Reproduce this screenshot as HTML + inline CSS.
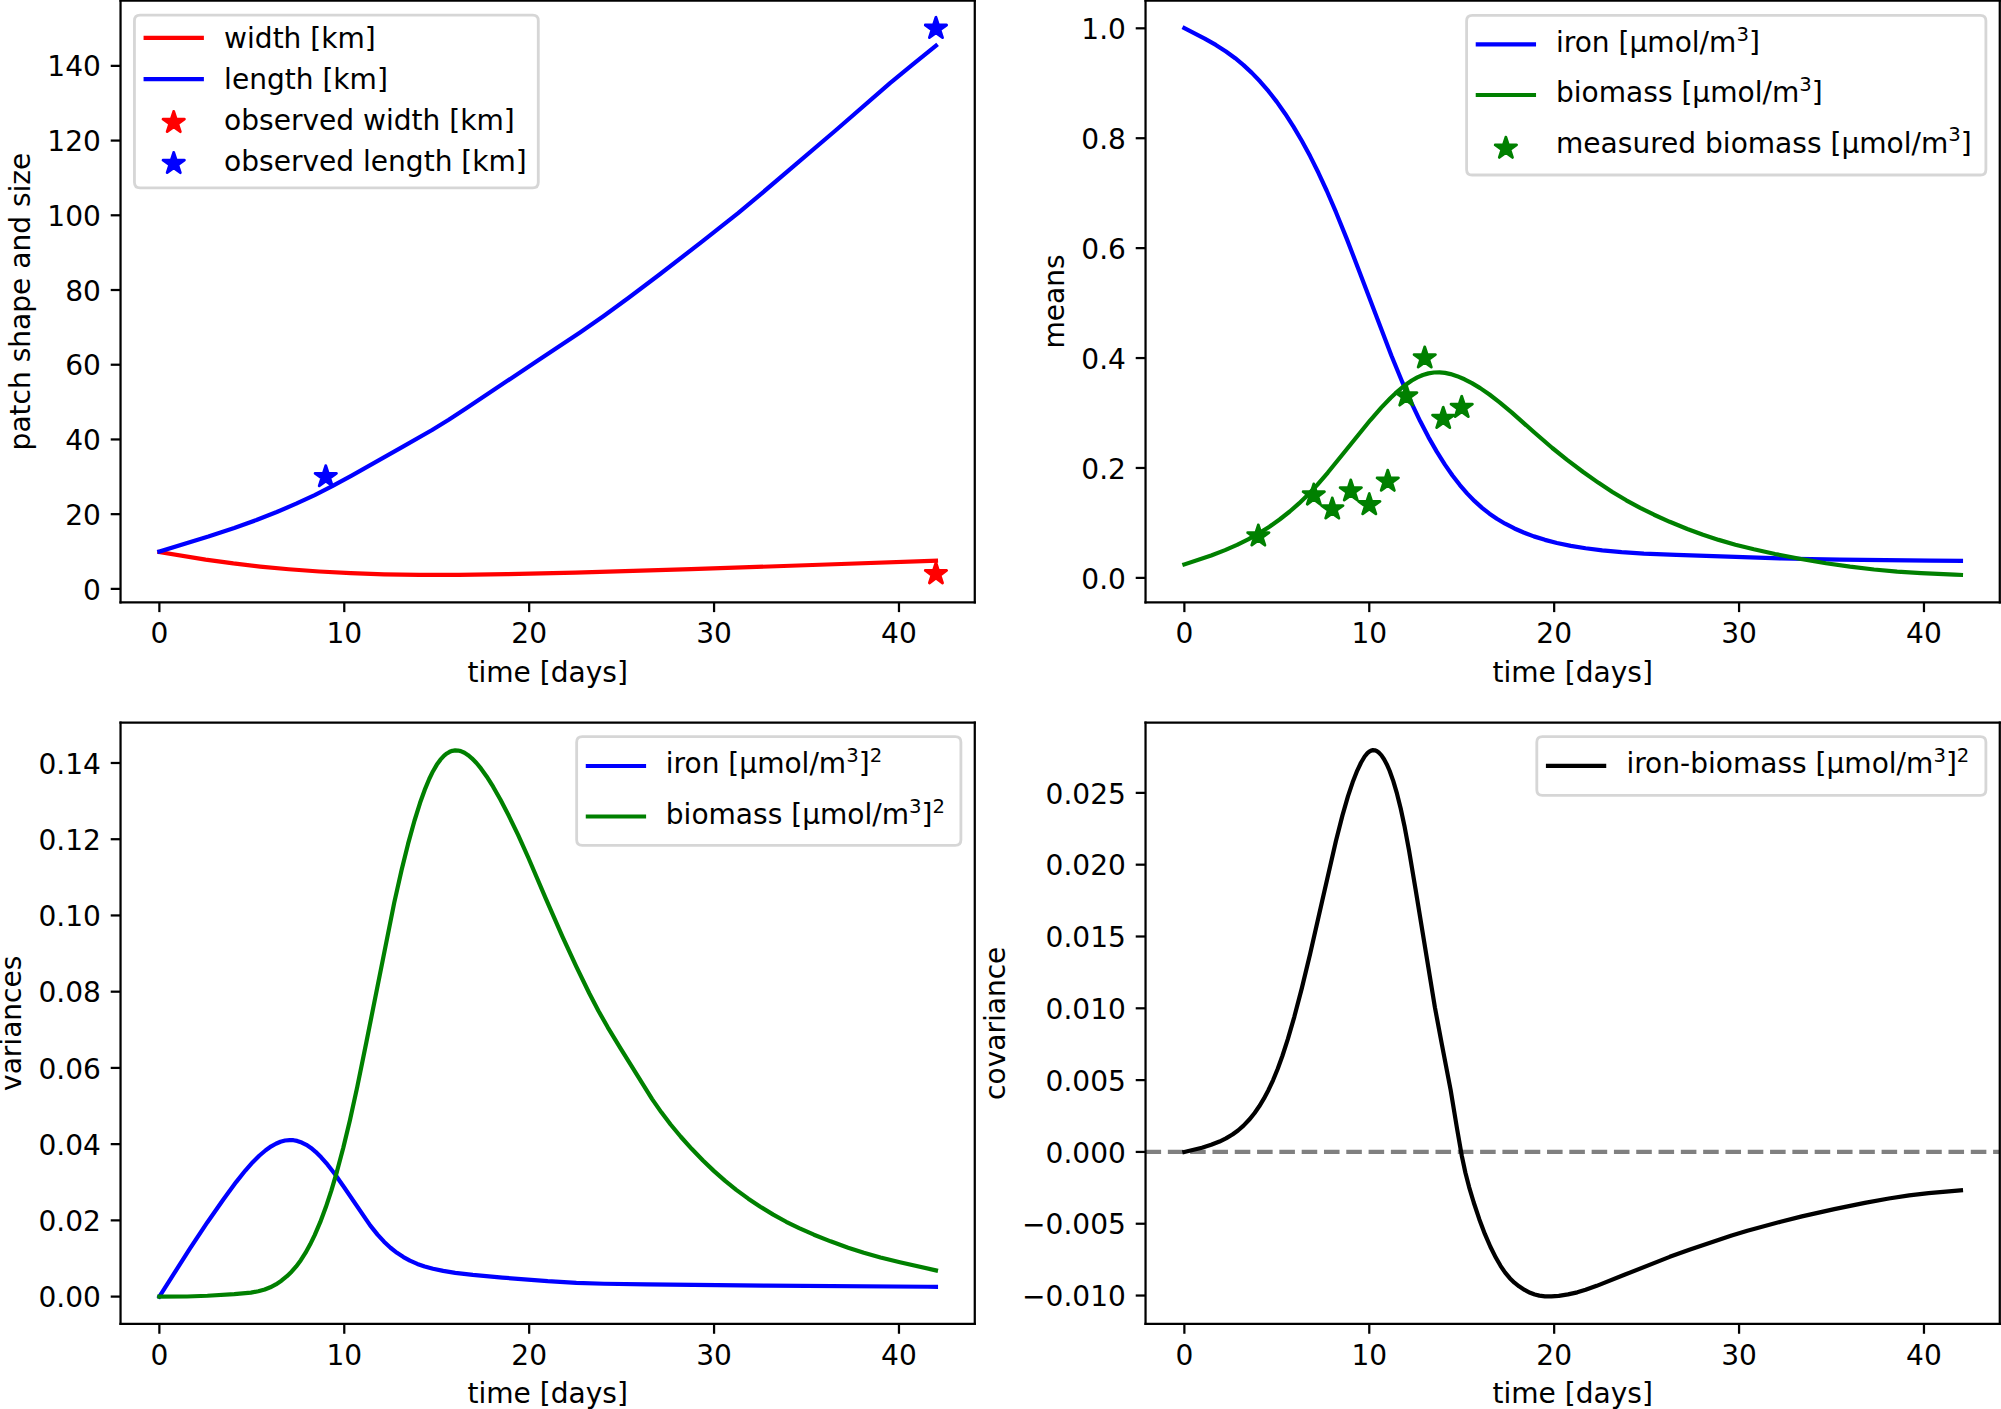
<!DOCTYPE html>
<html><head><meta charset="utf-8"><title>Patch model results</title><style>html,body{margin:0;padding:0;background:#fff;overflow:hidden}svg{display:block}</style></head><body>
<svg xmlns="http://www.w3.org/2000/svg" xmlns:xlink="http://www.w3.org/1999/xlink" width="2001" height="1409" viewBox="0 0 2001 1409" version="1.1"><g transform="scale(2.805556)">
 <defs>
  <style type="text/css">*{stroke-linejoin: round; stroke-linecap: butt}</style>
 </defs>
 <g id="figure_1">
  <g id="patch_1">
   <path d="M 0 502.217822 L 713.227723 502.217822 L 713.227723 0 L 0 0 z
" style="fill: #ffffff"/>
  </g>
  <g id="axes_1">
   <g id="patch_2">
    <path d="M 42.965109 214.681188 L 347.44598 214.681188 L 347.44598 0.267327 L 42.965109 0.267327 z
" style="fill: #ffffff"/>
   </g>
   <g id="matplotlib.axis_1">
    <g id="xtick_1">
     <g id="line2d_1">
      <defs>
       <path id="m7c25c535dc" d="M 0 0 L 0 3.5 " style="stroke: #000000; stroke-width: 0.8"/>
      </defs>
      <g>
       <use xlink:href="#m7c25c535dc" x="56.805149" y="214.681188" style="stroke: #000000; stroke-width: 0.8"/>
      </g>
     </g>
     <g id="text_1">
      <text style="font-size: 10px; font-family: 'DejaVu Sans', sans-serif; text-anchor: middle" x="56.805149" y="229.279626" transform="rotate(-0 56.805149 229.279626)">0</text>
     </g>
    </g>
    <g id="xtick_2">
     <g id="line2d_2">
      <g>
       <use xlink:href="#m7c25c535dc" x="122.710099" y="214.681188" style="stroke: #000000; stroke-width: 0.8"/>
      </g>
     </g>
     <g id="text_2">
      <text style="font-size: 10px; font-family: 'DejaVu Sans', sans-serif; text-anchor: middle" x="122.710099" y="229.279626" transform="rotate(-0 122.710099 229.279626)">10</text>
     </g>
    </g>
    <g id="xtick_3">
     <g id="line2d_3">
      <g>
       <use xlink:href="#m7c25c535dc" x="188.61505" y="214.681188" style="stroke: #000000; stroke-width: 0.8"/>
      </g>
     </g>
     <g id="text_3">
      <text style="font-size: 10px; font-family: 'DejaVu Sans', sans-serif; text-anchor: middle" x="188.61505" y="229.279626" transform="rotate(-0 188.61505 229.279626)">20</text>
     </g>
    </g>
    <g id="xtick_4">
     <g id="line2d_4">
      <g>
       <use xlink:href="#m7c25c535dc" x="254.52" y="214.681188" style="stroke: #000000; stroke-width: 0.8"/>
      </g>
     </g>
     <g id="text_4">
      <text style="font-size: 10px; font-family: 'DejaVu Sans', sans-serif; text-anchor: middle" x="254.52" y="229.279626" transform="rotate(-0 254.52 229.279626)">30</text>
     </g>
    </g>
    <g id="xtick_5">
     <g id="line2d_5">
      <g>
       <use xlink:href="#m7c25c535dc" x="320.42495" y="214.681188" style="stroke: #000000; stroke-width: 0.8"/>
      </g>
     </g>
     <g id="text_5">
      <text style="font-size: 10px; font-family: 'DejaVu Sans', sans-serif; text-anchor: middle" x="320.42495" y="229.279626" transform="rotate(-0 320.42495 229.279626)">40</text>
     </g>
    </g>
    <g id="text_6">
     <text style="font-size: 10px; font-family: 'DejaVu Sans', sans-serif; text-anchor: middle" x="195.205545" y="242.957751" transform="rotate(-0 195.205545 242.957751)">time [days]</text>
    </g>
   </g>
   <g id="matplotlib.axis_2">
    <g id="ytick_1">
     <g id="line2d_6">
      <defs>
       <path id="mb258c49b38" d="M 0 0 L -3.5 0 " style="stroke: #000000; stroke-width: 0.8"/>
      </defs>
      <g>
       <use xlink:href="#mb258c49b38" x="42.965109" y="209.897822" style="stroke: #000000; stroke-width: 0.8"/>
      </g>
     </g>
     <g id="text_7">
      <text style="font-size: 10px; font-family: 'DejaVu Sans', sans-serif; text-anchor: end" x="35.965109" y="213.697041" transform="rotate(-0 35.965109 213.697041)">0</text>
     </g>
    </g>
    <g id="ytick_2">
     <g id="line2d_7">
      <g>
       <use xlink:href="#mb258c49b38" x="42.965109" y="183.265663" style="stroke: #000000; stroke-width: 0.8"/>
      </g>
     </g>
     <g id="text_8">
      <text style="font-size: 10px; font-family: 'DejaVu Sans', sans-serif; text-anchor: end" x="35.965109" y="187.064882" transform="rotate(-0 35.965109 187.064882)">20</text>
     </g>
    </g>
    <g id="ytick_3">
     <g id="line2d_8">
      <g>
       <use xlink:href="#mb258c49b38" x="42.965109" y="156.633505" style="stroke: #000000; stroke-width: 0.8"/>
      </g>
     </g>
     <g id="text_9">
      <text style="font-size: 10px; font-family: 'DejaVu Sans', sans-serif; text-anchor: end" x="35.965109" y="160.432724" transform="rotate(-0 35.965109 160.432724)">40</text>
     </g>
    </g>
    <g id="ytick_4">
     <g id="line2d_9">
      <g>
       <use xlink:href="#mb258c49b38" x="42.965109" y="130.001347" style="stroke: #000000; stroke-width: 0.8"/>
      </g>
     </g>
     <g id="text_10">
      <text style="font-size: 10px; font-family: 'DejaVu Sans', sans-serif; text-anchor: end" x="35.965109" y="133.800565" transform="rotate(-0 35.965109 133.800565)">60</text>
     </g>
    </g>
    <g id="ytick_5">
     <g id="line2d_10">
      <g>
       <use xlink:href="#mb258c49b38" x="42.965109" y="103.369188" style="stroke: #000000; stroke-width: 0.8"/>
      </g>
     </g>
     <g id="text_11">
      <text style="font-size: 10px; font-family: 'DejaVu Sans', sans-serif; text-anchor: end" x="35.965109" y="107.168407" transform="rotate(-0 35.965109 107.168407)">80</text>
     </g>
    </g>
    <g id="ytick_6">
     <g id="line2d_11">
      <g>
       <use xlink:href="#mb258c49b38" x="42.965109" y="76.73703" style="stroke: #000000; stroke-width: 0.8"/>
      </g>
     </g>
     <g id="text_12">
      <text style="font-size: 10px; font-family: 'DejaVu Sans', sans-serif; text-anchor: end" x="35.965109" y="80.536248" transform="rotate(-0 35.965109 80.536248)">100</text>
     </g>
    </g>
    <g id="ytick_7">
     <g id="line2d_12">
      <g>
       <use xlink:href="#mb258c49b38" x="42.965109" y="50.104871" style="stroke: #000000; stroke-width: 0.8"/>
      </g>
     </g>
     <g id="text_13">
      <text style="font-size: 10px; font-family: 'DejaVu Sans', sans-serif; text-anchor: end" x="35.965109" y="53.90409" transform="rotate(-0 35.965109 53.90409)">120</text>
     </g>
    </g>
    <g id="ytick_8">
     <g id="line2d_13">
      <g>
       <use xlink:href="#mb258c49b38" x="42.965109" y="23.472713" style="stroke: #000000; stroke-width: 0.8"/>
      </g>
     </g>
     <g id="text_14">
      <text style="font-size: 10px; font-family: 'DejaVu Sans', sans-serif; text-anchor: end" x="35.965109" y="27.271932" transform="rotate(-0 35.965109 27.271932)">140</text>
     </g>
    </g>
    <g id="text_15">
     <text style="font-size: 10px; font-family: 'DejaVu Sans', sans-serif; text-anchor: middle" x="10.797921" y="107.474257" transform="rotate(-90 10.797921 107.474257)">patch shape and size</text>
    </g>
   </g>
   <g id="line2d_14">
    <path d="M 56.805149 196.767917 L 73.281386 199.458106 L 83.167129 200.836338 L 92.723347 201.947107 L 102.938614 202.906832 L 113.812931 203.698253 L 125.016772 204.291326 L 136.879663 204.695378 L 149.401604 204.899206 L 163.571168 204.901667 L 180.706455 204.670885 L 205.091287 204.097807 L 246.281881 202.879567 L 294.72202 201.213087 L 333.605941 199.887965 L 333.605941 199.887965 " clip-path="url(#p163450d6d6)" style="fill: none; stroke: #ff0000; stroke-width: 1.5; stroke-linecap: square"/>
   </g>
   <g id="line2d_15">
    <path d="M 56.805149 196.577535 L 74.26996 191.244728 L 83.496653 188.190958 L 91.405248 185.342536 L 98.654792 182.495684 L 105.574812 179.533047 L 112.165307 176.460026 L 118.426277 173.294545 L 125.346297 169.535025 L 143.470158 159.287975 L 154.01495 153.277735 L 159.946396 149.638531 L 166.207366 145.525256 L 191.580772 128.567975 L 206.738911 118.492959 L 215.306554 112.524945 L 224.203723 106.04868 L 235.07804 97.849396 L 250.565703 85.864499 L 263.087644 75.972547 L 270.666713 69.631323 L 298.017267 46.337639 L 317.129703 29.701806 L 325.367822 22.923431 L 333.605941 16.317025 L 333.605941 16.317025 " clip-path="url(#p163450d6d6)" style="fill: none; stroke: #0000ff; stroke-width: 1.5; stroke-linecap: square"/>
   </g>
   <g id="line2d_16">
    <defs>
     <path id="m61be71955b" d="M 0 -4 L -0.898056 -1.236068 L -3.804226 -1.236068 L -1.453085 0.472136 L -2.351141 3.236068 L -0 1.527864 L 2.351141 3.236068 L 1.453085 0.472136 L 3.804226 -1.236068 L 0.898056 -1.236068 z
" style="stroke: #ff0000; stroke-linejoin: round"/>
    </defs>
    <g clip-path="url(#p163450d6d6)">
     <use xlink:href="#m61be71955b" x="333.605941" y="204.57139" style="fill: #ff0000; stroke: #ff0000; stroke-linejoin: round"/>
    </g>
   </g>
   <g id="line2d_17">
    <defs>
     <path id="m645d102fbe" d="M 0 -4 L -0.898056 -1.236068 L -3.804226 -1.236068 L -1.453085 0.472136 L -2.351141 3.236068 L -0 1.527864 L 2.351141 3.236068 L 1.453085 0.472136 L 3.804226 -1.236068 L 0.898056 -1.236068 z
" style="stroke: #0000ff; stroke-linejoin: round"/>
    </defs>
    <g clip-path="url(#p163450d6d6)">
     <use xlink:href="#m645d102fbe" x="116.119604" y="169.949584" style="fill: #0000ff; stroke: #0000ff; stroke-linejoin: round"/>
     <use xlink:href="#m645d102fbe" x="333.605941" y="10.156634" style="fill: #0000ff; stroke: #0000ff; stroke-linejoin: round"/>
    </g>
   </g>
   <g id="patch_3">
    <path d="M 42.965109 214.681188 L 42.965109 0.267327 " style="fill: none; stroke: #000000; stroke-width: 0.8; stroke-linejoin: miter; stroke-linecap: square"/>
   </g>
   <g id="patch_4">
    <path d="M 347.44598 214.681188 L 347.44598 0.267327 " style="fill: none; stroke: #000000; stroke-width: 0.8; stroke-linejoin: miter; stroke-linecap: square"/>
   </g>
   <g id="patch_5">
    <path d="M 42.965109 214.681188 L 347.44598 214.681188 " style="fill: none; stroke: #000000; stroke-width: 0.8; stroke-linejoin: miter; stroke-linecap: square"/>
   </g>
   <g id="patch_6">
    <path d="M 42.965109 0.267327 L 347.44598 0.267327 " style="fill: none; stroke: #000000; stroke-width: 0.8; stroke-linejoin: miter; stroke-linecap: square"/>
   </g>
  </g>
  <g id="axes_2">
   <g id="patch_7">
    <path d="M 408.311644 214.681188 L 712.792515 214.681188 L 712.792515 0.267327 L 408.311644 0.267327 z
" style="fill: #ffffff"/>
   </g>
   <g id="matplotlib.axis_3">
    <g id="xtick_6">
     <g id="line2d_18">
      <g>
       <use xlink:href="#m7c25c535dc" x="422.151683" y="214.681188" style="stroke: #000000; stroke-width: 0.8"/>
      </g>
     </g>
     <g id="text_16">
      <text style="font-size: 10px; font-family: 'DejaVu Sans', sans-serif; text-anchor: middle" x="422.151683" y="229.279626" transform="rotate(-0 422.151683 229.279626)">0</text>
     </g>
    </g>
    <g id="xtick_7">
     <g id="line2d_19">
      <g>
       <use xlink:href="#m7c25c535dc" x="488.056634" y="214.681188" style="stroke: #000000; stroke-width: 0.8"/>
      </g>
     </g>
     <g id="text_17">
      <text style="font-size: 10px; font-family: 'DejaVu Sans', sans-serif; text-anchor: middle" x="488.056634" y="229.279626" transform="rotate(-0 488.056634 229.279626)">10</text>
     </g>
    </g>
    <g id="xtick_8">
     <g id="line2d_20">
      <g>
       <use xlink:href="#m7c25c535dc" x="553.961584" y="214.681188" style="stroke: #000000; stroke-width: 0.8"/>
      </g>
     </g>
     <g id="text_18">
      <text style="font-size: 10px; font-family: 'DejaVu Sans', sans-serif; text-anchor: middle" x="553.961584" y="229.279626" transform="rotate(-0 553.961584 229.279626)">20</text>
     </g>
    </g>
    <g id="xtick_9">
     <g id="line2d_21">
      <g>
       <use xlink:href="#m7c25c535dc" x="619.866535" y="214.681188" style="stroke: #000000; stroke-width: 0.8"/>
      </g>
     </g>
     <g id="text_19">
      <text style="font-size: 10px; font-family: 'DejaVu Sans', sans-serif; text-anchor: middle" x="619.866535" y="229.279626" transform="rotate(-0 619.866535 229.279626)">30</text>
     </g>
    </g>
    <g id="xtick_10">
     <g id="line2d_22">
      <g>
       <use xlink:href="#m7c25c535dc" x="685.771485" y="214.681188" style="stroke: #000000; stroke-width: 0.8"/>
      </g>
     </g>
     <g id="text_20">
      <text style="font-size: 10px; font-family: 'DejaVu Sans', sans-serif; text-anchor: middle" x="685.771485" y="229.279626" transform="rotate(-0 685.771485 229.279626)">40</text>
     </g>
    </g>
    <g id="text_21">
     <text style="font-size: 10px; font-family: 'DejaVu Sans', sans-serif; text-anchor: middle" x="560.552079" y="242.957751" transform="rotate(-0 560.552079 242.957751)">time [days]</text>
    </g>
   </g>
   <g id="matplotlib.axis_4">
    <g id="ytick_9">
     <g id="line2d_23">
      <g>
       <use xlink:href="#mb258c49b38" x="408.311644" y="205.97703" style="stroke: #000000; stroke-width: 0.8"/>
      </g>
     </g>
     <g id="text_22">
      <text style="font-size: 10px; font-family: 'DejaVu Sans', sans-serif; text-anchor: end" x="401.311644" y="209.776248" transform="rotate(-0 401.311644 209.776248)">0.0</text>
     </g>
    </g>
    <g id="ytick_10">
     <g id="line2d_24">
      <g>
       <use xlink:href="#mb258c49b38" x="408.311644" y="166.799762" style="stroke: #000000; stroke-width: 0.8"/>
      </g>
     </g>
     <g id="text_23">
      <text style="font-size: 10px; font-family: 'DejaVu Sans', sans-serif; text-anchor: end" x="401.311644" y="170.598981" transform="rotate(-0 401.311644 170.598981)">0.2</text>
     </g>
    </g>
    <g id="ytick_11">
     <g id="line2d_25">
      <g>
       <use xlink:href="#mb258c49b38" x="408.311644" y="127.622495" style="stroke: #000000; stroke-width: 0.8"/>
      </g>
     </g>
     <g id="text_24">
      <text style="font-size: 10px; font-family: 'DejaVu Sans', sans-serif; text-anchor: end" x="401.311644" y="131.421714" transform="rotate(-0 401.311644 131.421714)">0.4</text>
     </g>
    </g>
    <g id="ytick_12">
     <g id="line2d_26">
      <g>
       <use xlink:href="#mb258c49b38" x="408.311644" y="88.445228" style="stroke: #000000; stroke-width: 0.8"/>
      </g>
     </g>
     <g id="text_25">
      <text style="font-size: 10px; font-family: 'DejaVu Sans', sans-serif; text-anchor: end" x="401.311644" y="92.244446" transform="rotate(-0 401.311644 92.244446)">0.6</text>
     </g>
    </g>
    <g id="ytick_13">
     <g id="line2d_27">
      <g>
       <use xlink:href="#mb258c49b38" x="408.311644" y="49.26796" style="stroke: #000000; stroke-width: 0.8"/>
      </g>
     </g>
     <g id="text_26">
      <text style="font-size: 10px; font-family: 'DejaVu Sans', sans-serif; text-anchor: end" x="401.311644" y="53.067179" transform="rotate(-0 401.311644 53.067179)">0.8</text>
     </g>
    </g>
    <g id="ytick_14">
     <g id="line2d_28">
      <g>
       <use xlink:href="#mb258c49b38" x="408.311644" y="10.090693" style="stroke: #000000; stroke-width: 0.8"/>
      </g>
     </g>
     <g id="text_27">
      <text style="font-size: 10px; font-family: 'DejaVu Sans', sans-serif; text-anchor: end" x="401.311644" y="13.889912" transform="rotate(-0 401.311644 13.889912)">1.0</text>
     </g>
    </g>
    <g id="text_28">
     <text style="font-size: 10px; font-family: 'DejaVu Sans', sans-serif; text-anchor: middle" x="379.328831" y="107.474257" transform="rotate(-90 379.328831 107.474257)">means</text>
    </g>
   </g>
   <g id="line2d_29">
    <path d="M 422.151683 10.051389 L 429.401228 13.761799 L 433.355525 16.020809 L 436.980297 18.353259 L 440.275545 20.759321 L 443.241267 23.207884 L 446.20699 25.966416 L 449.172713 29.058651 L 452.138436 32.502533 L 455.104158 36.316001 L 458.069881 40.517368 L 461.035604 45.126282 L 464.001327 50.162556 L 466.96705 55.642826 L 469.932772 61.580466 L 472.898495 67.987204 L 476.193743 75.626293 L 480.14804 85.400173 L 485.090911 98.269994 L 495.965228 126.788903 L 499.919525 136.404352 L 503.214772 143.872455 L 506.180495 150.09078 L 509.146218 155.791946 L 512.111941 160.987382 L 515.077663 165.693861 L 517.713861 169.477332 L 520.350059 172.89125 L 522.986257 175.941871 L 525.622455 178.641485 L 528.258653 181.01112 L 530.894851 183.083116 L 533.53105 184.894732 L 536.496772 186.668256 L 539.79202 188.363857 L 543.087267 189.818161 L 546.71204 191.182137 L 550.666337 192.424339 L 554.950158 193.528518 L 559.89303 194.559438 L 565.165426 195.428991 L 571.096871 196.180806 L 578.016891 196.82746 L 585.925485 197.332856 L 597.458851 197.808264 L 635.024673 199.07434 L 655.784733 199.47144 L 688.078158 199.862852 L 698.952475 199.925242 L 698.952475 199.925242 " clip-path="url(#p0c8f0a9488)" style="fill: none; stroke: #0000ff; stroke-width: 1.5; stroke-linecap: square"/>
   </g>
   <g id="line2d_30">
    <path d="M 422.151683 201.182416 L 431.707901 197.974926 L 436.650772 196.089144 L 440.934594 194.22368 L 444.888891 192.256166 L 448.843188 190.023578 L 452.46796 187.726628 L 456.092733 185.167708 L 459.717505 182.318472 L 463.012752 179.437816 L 466.308 176.246866 L 469.603248 172.734773 L 473.22802 168.517314 L 479.159465 161.202787 L 488.386158 149.800936 L 492.340455 145.276365 L 495.635703 141.836076 L 498.271901 139.369951 L 500.908099 137.215103 L 503.214772 135.626949 L 505.191921 134.518161 L 507.169069 133.667739 L 509.146218 133.085613 L 511.123366 132.773966 L 513.100515 132.725937 L 515.077663 132.925664 L 517.054812 133.346961 L 519.361485 134.081499 L 521.997683 135.190199 L 524.633881 136.549357 L 527.599604 138.342385 L 530.894851 140.617611 L 534.519624 143.403001 L 538.803446 146.986948 L 546.71204 153.985707 L 553.302535 159.68169 L 558.574931 163.93708 L 564.176851 168.152872 L 569.778772 172.109988 L 574.721644 175.349566 L 579.664515 178.321663 L 584.607386 181.02084 L 589.550257 183.46819 L 595.152178 185.987542 L 601.413149 188.54569 L 607.015069 190.611204 L 612.61699 192.438231 L 618.548436 194.139958 L 625.138931 195.795397 L 632.718 197.462667 L 641.944693 199.25551 L 650.841861 200.756967 L 659.409505 201.980342 L 667.977149 202.987025 L 676.215267 203.742055 L 684.782911 204.300441 L 696.645802 204.828278 L 698.952475 204.917011 L 698.952475 204.917011 " clip-path="url(#p0c8f0a9488)" style="fill: none; stroke: #008000; stroke-width: 1.5; stroke-linecap: square"/>
   </g>
   <g id="line2d_31">
    <defs>
     <path id="m027cd5682d" d="M 0 -4 L -0.898056 -1.236068 L -3.804226 -1.236068 L -1.453085 0.472136 L -2.351141 3.236068 L -0 1.527864 L 2.351141 3.236068 L 1.453085 0.472136 L 3.804226 -1.236068 L 0.898056 -1.236068 z
" style="stroke: #008000; stroke-linejoin: round"/>
    </defs>
    <g clip-path="url(#p0c8f0a9488)">
     <use xlink:href="#m027cd5682d" x="448.513663" y="191.089668" style="fill: #008000; stroke: #008000; stroke-linejoin: round"/>
     <use xlink:href="#m027cd5682d" x="468.285149" y="176.496136" style="fill: #008000; stroke: #008000; stroke-linejoin: round"/>
     <use xlink:href="#m027cd5682d" x="474.875644" y="181.45206" style="fill: #008000; stroke: #008000; stroke-linejoin: round"/>
     <use xlink:href="#m027cd5682d" x="481.466139" y="175.026989" style="fill: #008000; stroke: #008000; stroke-linejoin: round"/>
     <use xlink:href="#m027cd5682d" x="488.056634" y="179.924147" style="fill: #008000; stroke: #008000; stroke-linejoin: round"/>
     <use xlink:href="#m027cd5682d" x="494.647129" y="171.579389" style="fill: #008000; stroke: #008000; stroke-linejoin: round"/>
     <use xlink:href="#m027cd5682d" x="501.237624" y="141.197418" style="fill: #008000; stroke: #008000; stroke-linejoin: round"/>
     <use xlink:href="#m027cd5682d" x="507.828119" y="127.622495" style="fill: #008000; stroke: #008000; stroke-linejoin: round"/>
     <use xlink:href="#m027cd5682d" x="514.418614" y="149.169992" style="fill: #008000; stroke: #008000; stroke-linejoin: round"/>
     <use xlink:href="#m027cd5682d" x="521.009109" y="145.252265" style="fill: #008000; stroke: #008000; stroke-linejoin: round"/>
    </g>
   </g>
   <g id="patch_8">
    <path d="M 408.311644 214.681188 L 408.311644 0.267327 " style="fill: none; stroke: #000000; stroke-width: 0.8; stroke-linejoin: miter; stroke-linecap: square"/>
   </g>
   <g id="patch_9">
    <path d="M 712.792515 214.681188 L 712.792515 0.267327 " style="fill: none; stroke: #000000; stroke-width: 0.8; stroke-linejoin: miter; stroke-linecap: square"/>
   </g>
   <g id="patch_10">
    <path d="M 408.311644 214.681188 L 712.792515 214.681188 " style="fill: none; stroke: #000000; stroke-width: 0.8; stroke-linejoin: miter; stroke-linecap: square"/>
   </g>
   <g id="patch_11">
    <path d="M 408.311644 0.267327 L 712.792515 0.267327 " style="fill: none; stroke: #000000; stroke-width: 0.8; stroke-linejoin: miter; stroke-linecap: square"/>
   </g>
  </g>
  <g id="axes_3">
   <g id="patch_12">
    <path d="M 42.965109 471.90297 L 347.44598 471.90297 L 347.44598 257.560396 L 42.965109 257.560396 z
" style="fill: #ffffff"/>
   </g>
   <g id="matplotlib.axis_5">
    <g id="xtick_11">
     <g id="line2d_32">
      <g>
       <use xlink:href="#m7c25c535dc" x="56.805149" y="471.90297" style="stroke: #000000; stroke-width: 0.8"/>
      </g>
     </g>
     <g id="text_29">
      <text style="font-size: 10px; font-family: 'DejaVu Sans', sans-serif; text-anchor: middle" x="56.805149" y="486.501408" transform="rotate(-0 56.805149 486.501408)">0</text>
     </g>
    </g>
    <g id="xtick_12">
     <g id="line2d_33">
      <g>
       <use xlink:href="#m7c25c535dc" x="122.710099" y="471.90297" style="stroke: #000000; stroke-width: 0.8"/>
      </g>
     </g>
     <g id="text_30">
      <text style="font-size: 10px; font-family: 'DejaVu Sans', sans-serif; text-anchor: middle" x="122.710099" y="486.501408" transform="rotate(-0 122.710099 486.501408)">10</text>
     </g>
    </g>
    <g id="xtick_13">
     <g id="line2d_34">
      <g>
       <use xlink:href="#m7c25c535dc" x="188.61505" y="471.90297" style="stroke: #000000; stroke-width: 0.8"/>
      </g>
     </g>
     <g id="text_31">
      <text style="font-size: 10px; font-family: 'DejaVu Sans', sans-serif; text-anchor: middle" x="188.61505" y="486.501408" transform="rotate(-0 188.61505 486.501408)">20</text>
     </g>
    </g>
    <g id="xtick_14">
     <g id="line2d_35">
      <g>
       <use xlink:href="#m7c25c535dc" x="254.52" y="471.90297" style="stroke: #000000; stroke-width: 0.8"/>
      </g>
     </g>
     <g id="text_32">
      <text style="font-size: 10px; font-family: 'DejaVu Sans', sans-serif; text-anchor: middle" x="254.52" y="486.501408" transform="rotate(-0 254.52 486.501408)">30</text>
     </g>
    </g>
    <g id="xtick_15">
     <g id="line2d_36">
      <g>
       <use xlink:href="#m7c25c535dc" x="320.42495" y="471.90297" style="stroke: #000000; stroke-width: 0.8"/>
      </g>
     </g>
     <g id="text_33">
      <text style="font-size: 10px; font-family: 'DejaVu Sans', sans-serif; text-anchor: middle" x="320.42495" y="486.501408" transform="rotate(-0 320.42495 486.501408)">40</text>
     </g>
    </g>
    <g id="text_34">
     <text style="font-size: 10px; font-family: 'DejaVu Sans', sans-serif; text-anchor: middle" x="195.205545" y="500.179533" transform="rotate(-0 195.205545 500.179533)">time [days]</text>
    </g>
   </g>
   <g id="matplotlib.axis_6">
    <g id="ytick_15">
     <g id="line2d_37">
      <g>
       <use xlink:href="#mb258c49b38" x="42.965109" y="462.154455" style="stroke: #000000; stroke-width: 0.8"/>
      </g>
     </g>
     <g id="text_35">
      <text style="font-size: 10px; font-family: 'DejaVu Sans', sans-serif; text-anchor: end" x="35.965109" y="465.953674" transform="rotate(-0 35.965109 465.953674)">0.00</text>
     </g>
    </g>
    <g id="ytick_16">
     <g id="line2d_38">
      <g>
       <use xlink:href="#mb258c49b38" x="42.965109" y="434.983366" style="stroke: #000000; stroke-width: 0.8"/>
      </g>
     </g>
     <g id="text_36">
      <text style="font-size: 10px; font-family: 'DejaVu Sans', sans-serif; text-anchor: end" x="35.965109" y="438.782585" transform="rotate(-0 35.965109 438.782585)">0.02</text>
     </g>
    </g>
    <g id="ytick_17">
     <g id="line2d_39">
      <g>
       <use xlink:href="#mb258c49b38" x="42.965109" y="407.812277" style="stroke: #000000; stroke-width: 0.8"/>
      </g>
     </g>
     <g id="text_37">
      <text style="font-size: 10px; font-family: 'DejaVu Sans', sans-serif; text-anchor: end" x="35.965109" y="411.611496" transform="rotate(-0 35.965109 411.611496)">0.04</text>
     </g>
    </g>
    <g id="ytick_18">
     <g id="line2d_40">
      <g>
       <use xlink:href="#mb258c49b38" x="42.965109" y="380.641188" style="stroke: #000000; stroke-width: 0.8"/>
      </g>
     </g>
     <g id="text_38">
      <text style="font-size: 10px; font-family: 'DejaVu Sans', sans-serif; text-anchor: end" x="35.965109" y="384.440407" transform="rotate(-0 35.965109 384.440407)">0.06</text>
     </g>
    </g>
    <g id="ytick_19">
     <g id="line2d_41">
      <g>
       <use xlink:href="#mb258c49b38" x="42.965109" y="353.470099" style="stroke: #000000; stroke-width: 0.8"/>
      </g>
     </g>
     <g id="text_39">
      <text style="font-size: 10px; font-family: 'DejaVu Sans', sans-serif; text-anchor: end" x="35.965109" y="357.269318" transform="rotate(-0 35.965109 357.269318)">0.08</text>
     </g>
    </g>
    <g id="ytick_20">
     <g id="line2d_42">
      <g>
       <use xlink:href="#mb258c49b38" x="42.965109" y="326.29901" style="stroke: #000000; stroke-width: 0.8"/>
      </g>
     </g>
     <g id="text_40">
      <text style="font-size: 10px; font-family: 'DejaVu Sans', sans-serif; text-anchor: end" x="35.965109" y="330.098229" transform="rotate(-0 35.965109 330.098229)">0.10</text>
     </g>
    </g>
    <g id="ytick_21">
     <g id="line2d_43">
      <g>
       <use xlink:href="#mb258c49b38" x="42.965109" y="299.127921" style="stroke: #000000; stroke-width: 0.8"/>
      </g>
     </g>
     <g id="text_41">
      <text style="font-size: 10px; font-family: 'DejaVu Sans', sans-serif; text-anchor: end" x="35.965109" y="302.92714" transform="rotate(-0 35.965109 302.92714)">0.12</text>
     </g>
    </g>
    <g id="ytick_22">
     <g id="line2d_44">
      <g>
       <use xlink:href="#mb258c49b38" x="42.965109" y="271.956832" style="stroke: #000000; stroke-width: 0.8"/>
      </g>
     </g>
     <g id="text_42">
      <text style="font-size: 10px; font-family: 'DejaVu Sans', sans-serif; text-anchor: end" x="35.965109" y="275.75605" transform="rotate(-0 35.965109 275.75605)">0.14</text>
     </g>
    </g>
    <g id="text_43">
     <text style="font-size: 10px; font-family: 'DejaVu Sans', sans-serif; text-anchor: middle" x="7.619796" y="364.731683" transform="rotate(-90 7.619796 364.731683)">variances</text>
    </g>
   </g>
   <g id="line2d_45">
    <path d="M 56.805149 462.147204 L 67.679465 445.056603 L 73.940436 435.639079 L 79.542356 427.612258 L 84.155703 421.346513 L 87.45095 417.226879 L 90.087149 414.256086 L 92.393822 411.955711 L 94.700495 409.984453 L 96.677644 408.591763 L 98.325267 407.663679 L 99.972891 406.968072 L 101.620515 406.524444 L 103.268139 406.350408 L 104.586238 406.415715 L 105.904337 406.664137 L 107.55196 407.229301 L 109.199584 408.071439 L 110.847208 409.180832 L 112.494832 410.54484 L 114.47198 412.491781 L 116.778653 415.139292 L 119.414851 418.557106 L 122.710099 423.253888 L 131.936792 436.746873 L 134.57299 440.064707 L 136.879663 442.585488 L 139.186337 444.735216 L 141.49301 446.549299 L 143.799683 448.067046 L 146.106356 449.329369 L 148.742554 450.501511 L 151.378752 451.425648 L 154.344475 452.236986 L 157.969248 453.001445 L 162.253069 453.677497 L 168.51404 454.417477 L 179.058832 455.390279 L 195.205545 456.669375 L 205.420812 457.240514 L 215.306554 457.569264 L 230.464693 457.812163 L 273.302911 458.259409 L 330.640218 458.648913 L 333.605941 458.661432 L 333.605941 458.661432 " clip-path="url(#pbb3766e73e)" style="fill: none; stroke: #0000ff; stroke-width: 1.5; stroke-linecap: square"/>
   </g>
   <g id="line2d_46">
    <path d="M 56.805149 462.156631 L 66.690891 462.116955 L 73.940436 461.848695 L 83.496653 461.257804 L 89.428099 460.725884 L 92.064297 460.262889 L 94.37097 459.618907 L 96.348119 458.836894 L 98.325267 457.804502 L 100.302416 456.498389 L 102.279564 454.893844 L 103.927188 453.287836 L 105.574812 451.395095 L 107.222436 449.176645 L 108.870059 446.594062 L 110.517683 443.619033 L 112.165307 440.239389 L 114.142455 435.621672 L 116.119604 430.345882 L 118.096752 424.365687 L 120.073901 417.671437 L 122.380574 408.996252 L 124.687248 399.433953 L 127.323446 387.48141 L 130.618693 371.31364 L 140.504436 321.830207 L 143.140634 310.121119 L 145.447307 300.802124 L 147.75398 292.456446 L 149.731129 286.156282 L 151.378752 281.557186 L 153.026376 277.585993 L 154.344475 274.882574 L 155.662574 272.61366 L 156.980673 270.773949 L 158.298772 269.353688 L 159.287347 268.55758 L 160.275921 267.984157 L 161.264495 267.624965 L 162.253069 267.47155 L 163.241644 267.515245 L 164.230218 267.745013 L 165.548317 268.319186 L 166.866416 269.172198 L 168.184515 270.275762 L 169.832139 271.970274 L 171.479762 273.97595 L 173.456911 276.74458 L 175.763584 280.416594 L 178.399782 285.088692 L 181.365505 290.784058 L 184.660752 297.597735 L 188.285525 305.645963 L 194.546495 320.277348 L 200.477941 333.821951 L 205.420812 344.548463 L 210.034158 354.039394 L 213.329406 360.352735 L 216.624653 366.162831 L 221.238 373.783888 L 232.441842 391.766868 L 235.737089 396.475596 L 239.032337 400.802549 L 242.657109 405.168993 L 246.611406 409.565776 L 250.565703 413.643006 L 254.52 417.424956 L 258.474297 420.912702 L 262.428594 424.098191 L 266.712416 427.242218 L 270.996238 430.118482 L 275.609584 432.939435 L 280.222931 435.483658 L 284.836277 437.758523 L 290.108673 440.086048 L 296.040119 442.462148 L 302.301089 444.729649 L 307.90301 446.53269 L 313.834455 448.210814 L 320.754475 449.92511 L 333.605941 452.81548 L 333.605941 452.81548 " clip-path="url(#pbb3766e73e)" style="fill: none; stroke: #008000; stroke-width: 1.5; stroke-linecap: square"/>
   </g>
   <g id="patch_13">
    <path d="M 42.965109 471.90297 L 42.965109 257.560396 " style="fill: none; stroke: #000000; stroke-width: 0.8; stroke-linejoin: miter; stroke-linecap: square"/>
   </g>
   <g id="patch_14">
    <path d="M 347.44598 471.90297 L 347.44598 257.560396 " style="fill: none; stroke: #000000; stroke-width: 0.8; stroke-linejoin: miter; stroke-linecap: square"/>
   </g>
   <g id="patch_15">
    <path d="M 42.965109 471.90297 L 347.44598 471.90297 " style="fill: none; stroke: #000000; stroke-width: 0.8; stroke-linejoin: miter; stroke-linecap: square"/>
   </g>
   <g id="patch_16">
    <path d="M 42.965109 257.560396 L 347.44598 257.560396 " style="fill: none; stroke: #000000; stroke-width: 0.8; stroke-linejoin: miter; stroke-linecap: square"/>
   </g>
  </g>
  <g id="axes_4">
   <g id="patch_17">
    <path d="M 408.311644 471.90297 L 712.792515 471.90297 L 712.792515 257.560396 L 408.311644 257.560396 z
" style="fill: #ffffff"/>
   </g>
   <g id="matplotlib.axis_7">
    <g id="xtick_16">
     <g id="line2d_47">
      <g>
       <use xlink:href="#m7c25c535dc" x="422.151683" y="471.90297" style="stroke: #000000; stroke-width: 0.8"/>
      </g>
     </g>
     <g id="text_44">
      <text style="font-size: 10px; font-family: 'DejaVu Sans', sans-serif; text-anchor: middle" x="422.151683" y="486.501408" transform="rotate(-0 422.151683 486.501408)">0</text>
     </g>
    </g>
    <g id="xtick_17">
     <g id="line2d_48">
      <g>
       <use xlink:href="#m7c25c535dc" x="488.056634" y="471.90297" style="stroke: #000000; stroke-width: 0.8"/>
      </g>
     </g>
     <g id="text_45">
      <text style="font-size: 10px; font-family: 'DejaVu Sans', sans-serif; text-anchor: middle" x="488.056634" y="486.501408" transform="rotate(-0 488.056634 486.501408)">10</text>
     </g>
    </g>
    <g id="xtick_18">
     <g id="line2d_49">
      <g>
       <use xlink:href="#m7c25c535dc" x="553.961584" y="471.90297" style="stroke: #000000; stroke-width: 0.8"/>
      </g>
     </g>
     <g id="text_46">
      <text style="font-size: 10px; font-family: 'DejaVu Sans', sans-serif; text-anchor: middle" x="553.961584" y="486.501408" transform="rotate(-0 553.961584 486.501408)">20</text>
     </g>
    </g>
    <g id="xtick_19">
     <g id="line2d_50">
      <g>
       <use xlink:href="#m7c25c535dc" x="619.866535" y="471.90297" style="stroke: #000000; stroke-width: 0.8"/>
      </g>
     </g>
     <g id="text_47">
      <text style="font-size: 10px; font-family: 'DejaVu Sans', sans-serif; text-anchor: middle" x="619.866535" y="486.501408" transform="rotate(-0 619.866535 486.501408)">30</text>
     </g>
    </g>
    <g id="xtick_20">
     <g id="line2d_51">
      <g>
       <use xlink:href="#m7c25c535dc" x="685.771485" y="471.90297" style="stroke: #000000; stroke-width: 0.8"/>
      </g>
     </g>
     <g id="text_48">
      <text style="font-size: 10px; font-family: 'DejaVu Sans', sans-serif; text-anchor: middle" x="685.771485" y="486.501408" transform="rotate(-0 685.771485 486.501408)">40</text>
     </g>
    </g>
    <g id="text_49">
     <text style="font-size: 10px; font-family: 'DejaVu Sans', sans-serif; text-anchor: middle" x="560.552079" y="500.179533" transform="rotate(-0 560.552079 500.179533)">time [days]</text>
    </g>
   </g>
   <g id="matplotlib.axis_8">
    <g id="ytick_23">
     <g id="line2d_52">
      <g>
       <use xlink:href="#mb258c49b38" x="408.311644" y="461.776634" style="stroke: #000000; stroke-width: 0.8"/>
      </g>
     </g>
     <g id="text_50">
      <text style="font-size: 10px; font-family: 'DejaVu Sans', sans-serif; text-anchor: end" x="401.311644" y="465.575852" transform="rotate(-0 401.311644 465.575852)">−0.010</text>
     </g>
    </g>
    <g id="ytick_24">
     <g id="line2d_53">
      <g>
       <use xlink:href="#mb258c49b38" x="408.311644" y="436.18099" style="stroke: #000000; stroke-width: 0.8"/>
      </g>
     </g>
     <g id="text_51">
      <text style="font-size: 10px; font-family: 'DejaVu Sans', sans-serif; text-anchor: end" x="401.311644" y="439.980209" transform="rotate(-0 401.311644 439.980209)">−0.005</text>
     </g>
    </g>
    <g id="ytick_25">
     <g id="line2d_54">
      <g>
       <use xlink:href="#mb258c49b38" x="408.311644" y="410.585347" style="stroke: #000000; stroke-width: 0.8"/>
      </g>
     </g>
     <g id="text_52">
      <text style="font-size: 10px; font-family: 'DejaVu Sans', sans-serif; text-anchor: end" x="401.311644" y="414.384565" transform="rotate(-0 401.311644 414.384565)">0.000</text>
     </g>
    </g>
    <g id="ytick_26">
     <g id="line2d_55">
      <g>
       <use xlink:href="#mb258c49b38" x="408.311644" y="384.989703" style="stroke: #000000; stroke-width: 0.8"/>
      </g>
     </g>
     <g id="text_53">
      <text style="font-size: 10px; font-family: 'DejaVu Sans', sans-serif; text-anchor: end" x="401.311644" y="388.788922" transform="rotate(-0 401.311644 388.788922)">0.005</text>
     </g>
    </g>
    <g id="ytick_27">
     <g id="line2d_56">
      <g>
       <use xlink:href="#mb258c49b38" x="408.311644" y="359.394059" style="stroke: #000000; stroke-width: 0.8"/>
      </g>
     </g>
     <g id="text_54">
      <text style="font-size: 10px; font-family: 'DejaVu Sans', sans-serif; text-anchor: end" x="401.311644" y="363.193278" transform="rotate(-0 401.311644 363.193278)">0.010</text>
     </g>
    </g>
    <g id="ytick_28">
     <g id="line2d_57">
      <g>
       <use xlink:href="#mb258c49b38" x="408.311644" y="333.798416" style="stroke: #000000; stroke-width: 0.8"/>
      </g>
     </g>
     <g id="text_55">
      <text style="font-size: 10px; font-family: 'DejaVu Sans', sans-serif; text-anchor: end" x="401.311644" y="337.597635" transform="rotate(-0 401.311644 337.597635)">0.015</text>
     </g>
    </g>
    <g id="ytick_29">
     <g id="line2d_58">
      <g>
       <use xlink:href="#mb258c49b38" x="408.311644" y="308.202772" style="stroke: #000000; stroke-width: 0.8"/>
      </g>
     </g>
     <g id="text_56">
      <text style="font-size: 10px; font-family: 'DejaVu Sans', sans-serif; text-anchor: end" x="401.311644" y="312.001991" transform="rotate(-0 401.311644 312.001991)">0.020</text>
     </g>
    </g>
    <g id="ytick_30">
     <g id="line2d_59">
      <g>
       <use xlink:href="#mb258c49b38" x="408.311644" y="282.607129" style="stroke: #000000; stroke-width: 0.8"/>
      </g>
     </g>
     <g id="text_57">
      <text style="font-size: 10px; font-family: 'DejaVu Sans', sans-serif; text-anchor: end" x="401.311644" y="286.406347" transform="rotate(-0 401.311644 286.406347)">0.025</text>
     </g>
    </g>
    <g id="text_58">
     <text style="font-size: 10px; font-family: 'DejaVu Sans', sans-serif; text-anchor: middle" x="358.224144" y="364.731683" transform="rotate(-90 358.224144 364.731683)">covariance</text>
    </g>
   </g>
   <g id="line2d_60">
    <path d="M 408.311644 410.585347 L 712.792515 410.585347 " clip-path="url(#pa720ab5cdd)" style="fill: none; stroke-dasharray: 5.55,2.4; stroke-dashoffset: 0; stroke: #808080; stroke-width: 1.5"/>
   </g>
   <g id="line2d_61">
    <path d="M 422.151683 410.585732 L 428.412653 409.077705 L 431.707901 408.056398 L 434.673624 406.896355 L 436.980297 405.773823 L 439.28697 404.387515 L 441.264119 402.938421 L 443.241267 401.20394 L 445.218416 399.141773 L 447.195564 396.702137 L 448.843188 394.332125 L 450.490812 391.612463 L 452.138436 388.502106 L 453.786059 384.958404 L 455.433683 380.938354 L 457.081307 376.402994 L 459.058455 370.295154 L 461.365129 362.338492 L 464.001327 352.292319 L 466.96705 340.032063 L 471.250871 321.23001 L 476.193743 299.685196 L 478.500416 290.624961 L 480.477564 283.788517 L 482.125188 278.843794 L 483.772812 274.645423 L 485.090911 271.863465 L 486.40901 269.654217 L 487.397584 268.450818 L 488.056634 267.892247 L 488.715683 267.537738 L 489.374733 267.38588 L 490.033782 267.434082 L 490.692832 267.681849 L 491.351881 268.129682 L 492.340455 269.160365 L 493.32903 270.601354 L 494.317604 272.455942 L 495.306178 274.72914 L 496.624277 278.424516 L 497.942376 282.902324 L 499.260475 288.188083 L 500.578574 294.307303 L 502.226198 303.081113 L 504.532871 316.814577 L 511.452891 359.07213 L 513.759564 371.330212 L 517.054812 388.441052 L 519.361485 402.423446 L 521.009109 411.849188 L 522.327208 418.009249 L 523.645307 423.112025 L 525.292931 428.616311 L 527.270079 434.552064 L 529.247228 439.801527 L 531.224376 444.37462 L 533.201525 448.331843 L 534.849149 451.182105 L 536.496772 453.610247 L 538.144396 455.601072 L 539.79202 457.195551 L 541.439644 458.491369 L 543.416792 459.774804 L 545.393941 460.784014 L 547.041564 461.399744 L 548.689188 461.803915 L 550.666337 462.04752 L 552.97301 462.076838 L 555.609208 461.872362 L 558.904455 461.364132 L 562.199703 460.630175 L 565.165426 459.749498 L 569.119723 458.319662 L 579.005465 454.385189 L 595.152178 447.9866 L 602.401723 445.364384 L 617.230337 440.382065 L 622.832257 438.700267 L 634.695149 435.467474 L 642.274218 433.571308 L 653.807584 430.985609 L 664.681901 428.733324 L 673.249545 427.181927 L 680.499089 426.089 L 687.419109 425.265981 L 695.657228 424.52638 L 698.952475 424.265295 L 698.952475 424.265295 " clip-path="url(#pa720ab5cdd)" style="fill: none; stroke: #000000; stroke-width: 1.5; stroke-linecap: square"/>
   </g>
   <g id="patch_18">
    <path d="M 408.311644 471.90297 L 408.311644 257.560396 " style="fill: none; stroke: #000000; stroke-width: 0.8; stroke-linejoin: miter; stroke-linecap: square"/>
   </g>
   <g id="patch_19">
    <path d="M 712.792515 471.90297 L 712.792515 257.560396 " style="fill: none; stroke: #000000; stroke-width: 0.8; stroke-linejoin: miter; stroke-linecap: square"/>
   </g>
   <g id="patch_20">
    <path d="M 408.311644 471.90297 L 712.792515 471.90297 " style="fill: none; stroke: #000000; stroke-width: 0.8; stroke-linejoin: miter; stroke-linecap: square"/>
   </g>
   <g id="patch_21">
    <path d="M 408.311644 257.560396 L 712.792515 257.560396 " style="fill: none; stroke: #000000; stroke-width: 0.8; stroke-linejoin: miter; stroke-linecap: square"/>
   </g>
  </g>
 </g>
 <defs>
  <clipPath id="p163450d6d6">
   <rect x="42.965109" y="0.267327" width="304.480871" height="214.413861"/>
  </clipPath>
  <clipPath id="p0c8f0a9488">
   <rect x="408.311644" y="0.267327" width="304.480871" height="214.413861"/>
  </clipPath>
  <clipPath id="pbb3766e73e">
   <rect x="42.965109" y="257.560396" width="304.480871" height="214.342574"/>
  </clipPath>
  <clipPath id="pa720ab5cdd">
   <rect x="408.311644" y="257.560396" width="304.480871" height="214.342574"/>
  </clipPath>
 </defs>
</g>
<g id="legends">
<path d="M140.06 15.20 L532.69 15.20 Q538.30 15.20 538.30 20.81 L538.30 182.29 Q538.30 187.90 532.69 187.90 L140.06 187.90 Q134.45 187.90 134.45 182.29 L134.45 20.81 Q134.45 15.20 140.06 15.20 Z" style="fill:#ffffff;fill-opacity:0.8;stroke:#cccccc;stroke-opacity:0.8;stroke-width:2.81;stroke-linejoin:miter"/>
<path d="M145.67 37.90 L201.79 37.90" style="fill:none;stroke:#ff0000;stroke-width:4.21;stroke-linecap:square"/>
<text x="224.10" y="47.80" style="font-family:'DejaVu Sans',sans-serif;font-size:28.06px;fill:#000"><tspan>width [km]</tspan></text>
<path d="M145.67 79.10 L201.79 79.10" style="fill:none;stroke:#0000ff;stroke-width:4.21;stroke-linecap:square"/>
<text x="224.10" y="88.90" style="font-family:'DejaVu Sans',sans-serif;font-size:28.06px;fill:#000"><tspan>length [km]</tspan></text>
<path d="M173.73 111.38 L171.21 119.13 L163.06 119.13 L169.66 123.92 L167.14 131.68 L173.73 126.89 L180.33 131.68 L177.81 123.92 L184.40 119.13 L176.25 119.13 Z" style="fill:#ff0000;stroke:#ff0000;stroke-width:2.81;stroke-linejoin:round"/>
<text x="224.10" y="130.00" style="font-family:'DejaVu Sans',sans-serif;font-size:28.06px;fill:#000"><tspan>observed width [km]</tspan></text>
<path d="M173.73 152.38 L171.21 160.13 L163.06 160.13 L169.66 164.92 L167.14 172.68 L173.73 167.89 L180.33 172.68 L177.81 164.92 L184.40 160.13 L176.25 160.13 Z" style="fill:#0000ff;stroke:#0000ff;stroke-width:2.81;stroke-linejoin:round"/>
<text x="224.10" y="171.30" style="font-family:'DejaVu Sans',sans-serif;font-size:28.06px;fill:#000"><tspan>observed length [km]</tspan></text>
<path d="M1472.21 15.30 L1980.29 15.30 Q1985.90 15.30 1985.90 20.91 L1985.90 169.39 Q1985.90 175.00 1980.29 175.00 L1472.21 175.00 Q1466.60 175.00 1466.60 169.39 L1466.60 20.91 Q1466.60 15.30 1472.21 15.30 Z" style="fill:#ffffff;fill-opacity:0.8;stroke:#cccccc;stroke-opacity:0.8;stroke-width:2.81;stroke-linejoin:miter"/>
<path d="M1477.82 44.30 L1533.94 44.30" style="fill:none;stroke:#0000ff;stroke-width:4.21;stroke-linecap:square"/>
<text x="1556.00" y="52.20" style="font-family:'DejaVu Sans',sans-serif;font-size:28.06px;fill:#000"><tspan>iron [µmol/m</tspan><tspan dy="-11.20" style="font-size:19.64px">3</tspan><tspan dy="11.20">]</tspan></text>
<path d="M1477.82 95.00 L1533.94 95.00" style="fill:none;stroke:#008000;stroke-width:4.21;stroke-linecap:square"/>
<text x="1556.00" y="102.20" style="font-family:'DejaVu Sans',sans-serif;font-size:28.06px;fill:#000"><tspan>biomass [µmol/m</tspan><tspan dy="-11.20" style="font-size:19.64px">3</tspan><tspan dy="11.20">]</tspan></text>
<path d="M1505.88 137.18 L1503.36 144.93 L1495.21 144.93 L1501.81 149.72 L1499.29 157.48 L1505.88 152.69 L1512.48 157.48 L1509.96 149.72 L1516.55 144.93 L1508.40 144.93 Z" style="fill:#008000;stroke:#008000;stroke-width:2.81;stroke-linejoin:round"/>
<text x="1556.00" y="152.50" style="font-family:'DejaVu Sans',sans-serif;font-size:28.06px;fill:#000"><tspan>measured biomass [µmol/m</tspan><tspan dy="-11.20" style="font-size:19.64px">3</tspan><tspan dy="11.20">]</tspan></text>
<path d="M582.26 736.60 L955.29 736.60 Q960.90 736.60 960.90 742.21 L960.90 839.79 Q960.90 845.40 955.29 845.40 L582.26 845.40 Q576.65 845.40 576.65 839.79 L576.65 742.21 Q576.65 736.60 582.26 736.60 Z" style="fill:#ffffff;fill-opacity:0.8;stroke:#cccccc;stroke-opacity:0.8;stroke-width:2.81;stroke-linejoin:miter"/>
<path d="M587.87 766.00 L643.99 766.00" style="fill:none;stroke:#0000ff;stroke-width:4.21;stroke-linecap:square"/>
<text x="665.80" y="773.30" style="font-family:'DejaVu Sans',sans-serif;font-size:28.06px;fill:#000"><tspan>iron [µmol/m</tspan><tspan dy="-11.20" style="font-size:19.64px">3</tspan><tspan dy="11.20">]</tspan><tspan dy="-11.20" style="font-size:19.64px">2</tspan></text>
<path d="M587.87 816.50 L643.99 816.50" style="fill:none;stroke:#008000;stroke-width:4.21;stroke-linecap:square"/>
<text x="665.80" y="823.70" style="font-family:'DejaVu Sans',sans-serif;font-size:28.06px;fill:#000"><tspan>biomass [µmol/m</tspan><tspan dy="-11.20" style="font-size:19.64px">3</tspan><tspan dy="11.20">]</tspan><tspan dy="-11.20" style="font-size:19.64px">2</tspan></text>
<path d="M1542.41 736.60 L1980.29 736.60 Q1985.90 736.60 1985.90 742.21 L1985.90 789.69 Q1985.90 795.30 1980.29 795.30 L1542.41 795.30 Q1536.80 795.30 1536.80 789.69 L1536.80 742.21 Q1536.80 736.60 1542.41 736.60 Z" style="fill:#ffffff;fill-opacity:0.8;stroke:#cccccc;stroke-opacity:0.8;stroke-width:2.81;stroke-linejoin:miter"/>
<path d="M1548.02 765.90 L1604.14 765.90" style="fill:none;stroke:#000000;stroke-width:4.21;stroke-linecap:square"/>
<text x="1626.40" y="773.10" style="font-family:'DejaVu Sans',sans-serif;font-size:28.06px;fill:#000"><tspan>iron-biomass [µmol/m</tspan><tspan dy="-11.20" style="font-size:19.64px">3</tspan><tspan dy="11.20">]</tspan><tspan dy="-11.20" style="font-size:19.64px">2</tspan></text>
</g>
</svg>
</body></html>
